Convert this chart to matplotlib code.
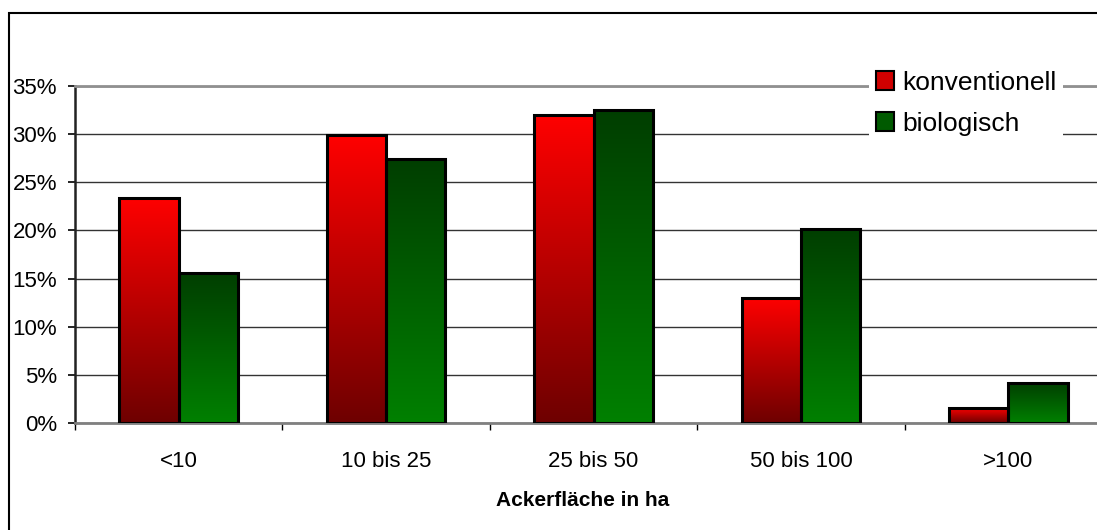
import numpy as np
import matplotlib
matplotlib.use("Agg")
import matplotlib.pyplot as plt
from matplotlib.patches import Rectangle, Patch
from matplotlib.ticker import PercentFormatter, FixedLocator

plt.rcParams['font.family'] = ['Liberation Sans', 'DejaVu Sans']

categories = ["<10", "10 bis 25", "25 bis 50", "50 bis 100", ">100"]
konventionell = [23.4, 29.9, 32.0, 13.0, 1.6]
biologisch = [15.6, 27.4, 32.5, 20.2, 4.2]
series_names = ["konventionell", "biologisch"]
y_ticks = [0, 5, 10, 15, 20, 25, 30, 35]

W, H = 1097, 530
fig = plt.figure(figsize=(W / 100, H / 100), dpi=100)

# outer chart frame
fig.add_artist(Rectangle((9 / W, -0.1), 1.2, 1 - 13 / H + 0.1, transform=fig.transFigure,
                         fill=False, edgecolor='black', linewidth=1.5))

# plot area runs past the right edge of the canvas
left_px, right_px, top_px, bottom_px = 75, 1112, 86, 423
ax = fig.add_axes([left_px / W, (H - bottom_px) / H,
                   (right_px - left_px) / W, (bottom_px - top_px) / H])

n = len(categories)
x = np.arange(n)
bw = 1 / 3.5  # gap width 150%

def gradient_bar(ax, x0, width, height, top_rgb, bottom_rgb):
    t = np.linspace(0, 1, 256)[:, None]
    top = np.array(top_rgb) / 255.0
    bot = np.array(bottom_rgb) / 255.0
    img = (top[None, None, :] * (1 - t[..., None]) + bot[None, None, :] * t[..., None])
    img = np.repeat(img, 2, axis=1)
    ax.imshow(img, extent=(x0, x0 + width, 0, height), origin='upper',
              aspect='auto', zorder=2, interpolation='bilinear')
    ax.add_patch(Rectangle((x0, 0), width, height, fill=False,
                           edgecolor='black', linewidth=2.2, zorder=3))

for i in range(n):
    gradient_bar(ax, x[i] - bw, bw, konventionell[i], (255, 0, 0), (110, 0, 0))
    gradient_bar(ax, x[i], bw, biologisch[i], (0, 62, 0), (0, 128, 0))

ax.set_xlim(-0.5, n - 0.5)
ax.set_ylim(0, 35)
ax.set_yticks(y_ticks)
ax.yaxis.set_major_formatter(PercentFormatter(decimals=0))
ax.set_xticks(x)
ax.set_xticklabels(categories)
ax.xaxis.set_minor_locator(FixedLocator(np.arange(n + 1) - 0.5))

ax.grid(axis='y', color='#333333', linewidth=1.0, zorder=0)
ax.set_axisbelow(True)

ax.tick_params(axis='y', which='major', length=5, width=1.2, color='black',
               labelsize=16, pad=8, direction='out')
ax.tick_params(axis='x', which='major', length=0, labelsize=16, pad=20)
ax.tick_params(axis='x', which='minor', length=5, width=1.0, color='black', direction='out')

ax.spines['right'].set_visible(False)
ax.spines['left'].set_color('#222222')
ax.spines['left'].set_linewidth(1.8)
ax.spines['bottom'].set_color('#808080')
ax.spines['bottom'].set_linewidth(2)
ax.spines['top'].set_color('#909090')
ax.spines['top'].set_linewidth(2)

fig.text(583 / W, 1 - 501 / H, "Ackerfläche in ha", ha='center', va='center',
         fontsize=15, fontweight='bold')

handles = [Patch(facecolor='#d00000', edgecolor='black', linewidth=1.5),
           Patch(facecolor='#005a00', edgecolor='black', linewidth=1.5)]
leg = ax.legend(handles, series_names, loc='upper left',
                bbox_to_anchor=((869 - left_px) / (right_px - left_px), 1.065),
                frameon=True, fontsize=19, handlelength=0.7, handleheight=0.7,
                handletextpad=0.3, labelspacing=0.65, borderpad=0.25,
                borderaxespad=0)
leg.get_frame().set_facecolor('white')
leg.get_frame().set_edgecolor('none')
leg.get_frame().set_alpha(1)
leg.set_zorder(5)

fig.savefig("out.png", dpi=100)
